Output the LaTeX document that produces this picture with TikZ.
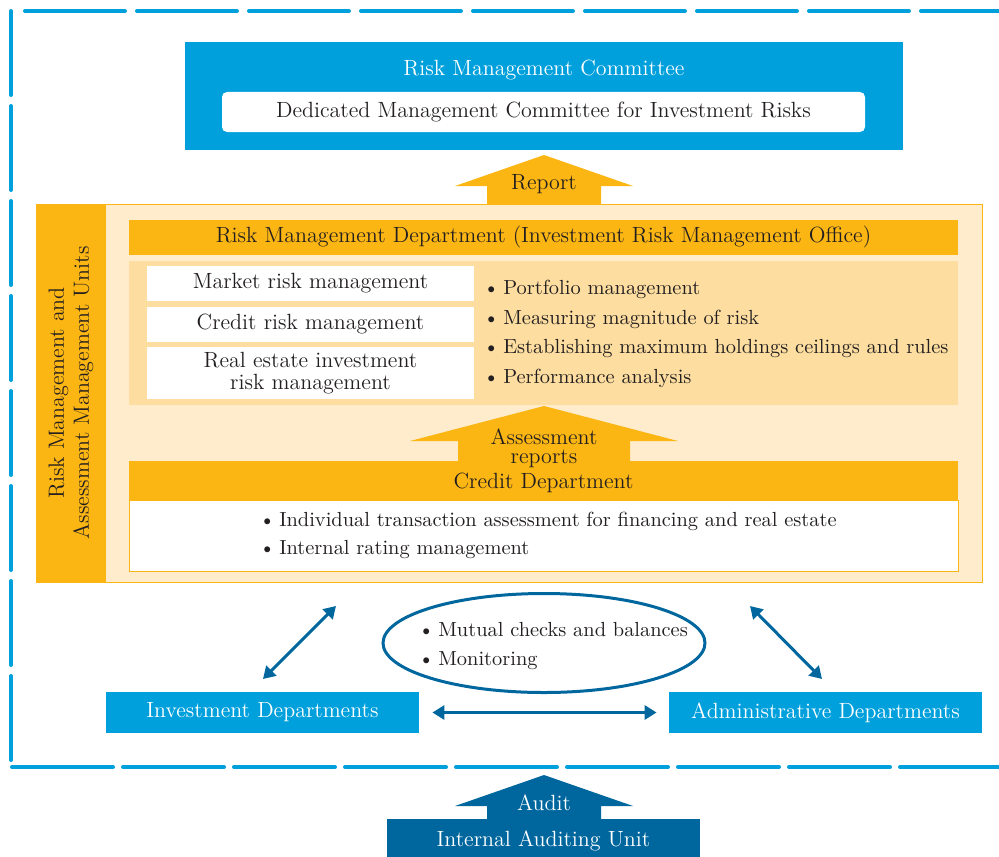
\documentclass[tikz,border=0pt]{standalone}
\usepackage{fontspec}
\usetikzlibrary{fit, arrows.meta, shapes.geometric}
\definecolor{rmblue}{RGB}{0,160,220}
\definecolor{rmdark}{RGB}{0,103,158}
\definecolor{rmorange}{RGB}{252,182,20}
\definecolor{rmcream}{RGB}{254,236,204}
\definecolor{rmpanel}{RGB}{253,222,160}
\definecolor{rmtext}{RGB}{35,31,32}
\tikzset{
every node/.style={font=\fontsize{11}{13}\selectfont, text=rmtext},
box/.style={inner sep=0pt},
bluebox/.style={box, fill=rmblue},
darkbox/.style={box, fill=rmdark},
orangebox/.style={box, fill=rmorange},
whitebox/.style={box, fill=white},
bullets/.style={anchor=west, align=left, inner sep=0pt, font=\fontsize{10.2}{#1}\selectfont},
frameline/.style={draw=rmblue, line width=2pt, line cap=round},
twoway/.style={rmdark, line width=1.5pt, {Triangle[length=6pt,width=7pt]}-{Triangle[length=6pt,width=7pt]}},
}
\newcommand{\bul}{\textbullet\kern2pt}

\begin{document}
\begin{tikzpicture}[x=0.5pt, y=-0.5pt]
    \useasboundingbox (0,0) rectangle (999,856);

    % dashed frame
    \draw[frameline, dash pattern=on 50pt off 6pt] (25,11) -- (999,11);
    \draw[frameline, dash pattern=on 42pt off 5.5pt] (11,11) -- (11,765);
    \draw[frameline, dash pattern=on 50.5pt off 5pt] (12,767) -- (999,767);

    % committee
    \node[fit={(185,42) (903,150)}, bluebox] (rmc) {};
    \node[text=white] (rmctitle) at (544,70) {Risk Management Committee};
    \node[fit={(222,92) (865,132)}, whitebox, rounded corners=2.5pt,
        label=center:{Dedicated Management Committee for Investment Risks}] (dmc) {};

    \fill[rmorange] (487,205) -- (487,186) -- (455,186) -- (544,155) -- (633,186) -- (601,186) -- (601,205) -- cycle;
    \node (report) at (544,184) {Report};

    % units
    \node[fit={(36,204) (982,582)}, box, draw=rmorange, fill=rmcream, line width=0.5pt] (units) {};
    \node[fit={(36,204) (106,582)}, orangebox] (band) {};
    \node[rotate=90, align=center, font=\fontsize{11}{12.5}\selectfont] at (band) {Risk Management and\\Assessment Management Units};

    \node[fit={(129,220) (958,255)}, orangebox,
        label=center:{Risk Management Department (Investment Risk Management Office)}] (rmd) {};
    \node[fit={(129,261) (958,405)}, box, fill=rmpanel] (panel) {};
    \node[fit={(147,266) (474,301)}, whitebox, label=center:{Market risk management}] (mkt) {};
    \node[fit={(147,307) (474,342)}, whitebox, label=center:{Credit risk management}] (crd) {};
    \node[fit={(147,347) (474,399)}, whitebox,
        label={[align=center, font=\fontsize{11}{11}\selectfont]center:{Real estate investment\\risk management}}] (rei) {};
    \node[bullets=14.75] (tasks) at (483,334) {\bul Portfolio management\\\bul Measuring magnitude of risk\\\bul Establishing maximum holdings ceilings and rules\\\bul Performance analysis};

    \fill[rmorange] (458,461) -- (458,441) -- (410,441) -- (544,406) -- (678,441) -- (630,441) -- (630,461) -- cycle;
    \node[fit={(129,461) (958,500)}, orangebox, label={[yshift=-1pt]center:{Credit Department}}] (cd) {};
    \node[align=center, font=\fontsize{11}{9.5}\selectfont] (assess) at (544,448) {Assessment\\reports};
    \node[fit={(129,500) (958,571)}, whitebox, draw=rmorange, line width=0.5pt] (cdbody) {};
    \node[bullets=14] (cdtasks) at (259,535) {\bul Individual transaction assessment for financing and real estate\\\bul Internal rating management};

    % checks and balances
    \node[ellipse, draw=rmdark, line width=1.5pt, fill=white, minimum width=161pt, minimum height=49.5pt] (checks) at (544,643) {};
    \node[bullets=14.5] (checktext) at (418,646) {\bul Mutual checks and balances\\\bul Monitoring};

    \node[fit={(106,692) (419,733)}, bluebox, label={[text=white]center:Investment Departments}] (inv) {};
    \node[fit={(669,692) (982,733)}, bluebox, label={[text=white]center:Administrative Departments}] (adm) {};

    \coordinate (invup) at (263,679);
    \coordinate (unitsl) at (336,606);
    \coordinate (unitsr) at (750,606);
    \coordinate (admup) at (822,679);

    \draw[twoway, shorten <=6.5pt, shorten >=6pt] (inv) -- (adm);
    \draw[twoway] (invup) -- (unitsl);
    \draw[twoway] (unitsr) -- (admup);

    % audit
    \fill[rmdark] (487,819) -- (487,806) -- (455,806) -- (544,775) -- (633,806) -- (601,806) -- (601,819) -- cycle;
    \node[text=white] (audit) at (544,803) {Audit};
    \node[fit={(387,819) (700,863)}, darkbox, label={[text=white]center:Internal Auditing Unit}] (iau) {};
\end{tikzpicture}
\end{document}
